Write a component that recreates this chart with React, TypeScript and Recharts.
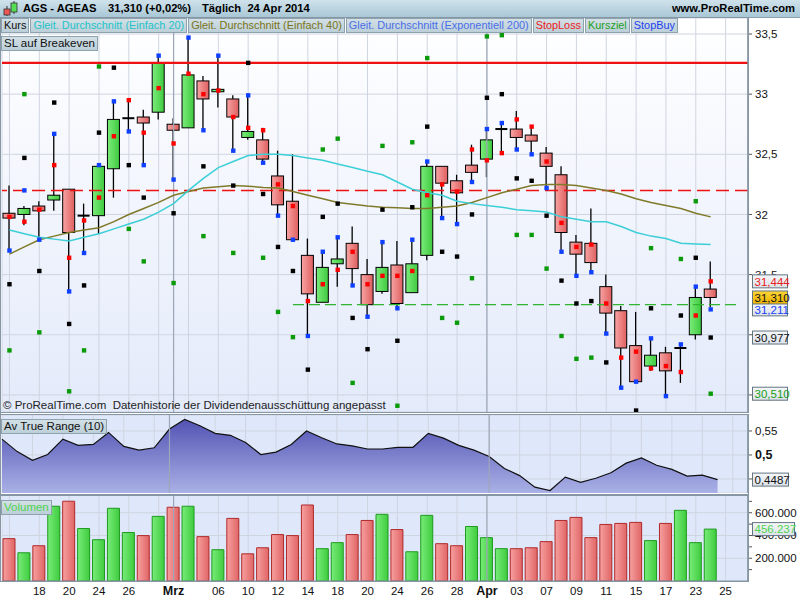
import React from "react";
import {
  ComposedChart, Bar, Line, Area, Scatter, XAxis, YAxis, CartesianGrid, ReferenceLine, Cell,
} from "recharts";

const FONT = '"Liberation Sans", Arial, sans-serif';

// trading days (last two are empty future slots)
const dates = [
  "02-14", "02-17", "02-18", "02-19", "02-20", "02-21", "02-24", "02-25", "02-26", "02-27", "02-28",
  "03-03", "03-04", "03-05", "03-06", "03-07", "03-10", "03-11", "03-12", "03-13", "03-14",
  "03-17", "03-18", "03-19", "03-20", "03-21", "03-24", "03-25", "03-26", "03-27", "03-28", "03-31",
  "04-01", "04-02", "04-03", "04-04", "04-07", "04-08", "04-09", "04-10", "04-11",
  "04-14", "04-15", "04-16", "04-17", "04-22", "04-23", "04-24", "04-25", "04-28",
];

const open = [32.01, 32.0, 32.07, 32.12, 32.21, 31.99, 31.99, 32.38, 32.8, 32.81, 32.85, 32.75, 32.72, 33.11, 33.02, 32.96, 32.64, 32.62, 32.32, 32.11, 31.66, 31.27, 31.59, 31.76, 31.5, 31.36, 31.58, 31.35, 31.66, 32.4, 32.28, 32.41, 32.46, 32.71, 32.71, 32.66, 32.51, 32.33, 31.77, 31.76, 31.4, 31.2, 30.91, 30.74, 30.85, 30.89, 31.0, 31.38];
const high = [32.24, 32.07, 32.11, 32.67, 32.21, 32.09, 32.41, 32.94, 32.95, 32.87, 33.32, 32.8, 33.47, 33.15, 33.32, 32.99, 32.99, 32.72, 32.53, 32.5, 31.8, 31.69, 31.81, 31.9, 31.63, 31.77, 31.78, 31.79, 32.44, 32.4, 32.33, 32.58, 32.71, 32.76, 32.86, 32.73, 32.56, 32.4, 31.83, 32.05, 31.5, 31.24, 31.19, 30.97, 30.9, 30.92, 31.4, 31.61];
const low = [31.7, 31.91, 31.79, 32.03, 31.36, 31.68, 31.84, 32.14, 32.69, 32.41, 32.79, 32.29, 32.72, 32.7, 32.89, 32.53, 32.62, 32.43, 31.99, 31.79, 30.99, 31.27, 31.4, 31.41, 31.15, 31.34, 31.22, 31.35, 31.62, 31.97, 31.92, 32.27, 32.31, 32.51, 32.55, 32.51, 32.22, 31.69, 31.49, 31.52, 31.01, 30.56, 30.61, 30.7, 30.49, 30.6, 30.96, 31.23];
const close = [31.97, 32.05, 32.03, 32.16, 31.85, 31.99, 32.4, 32.79, 32.8, 32.76, 33.26, 32.7, 33.16, 32.96, 33.04, 32.81, 32.69, 32.46, 32.08, 31.79, 31.34, 31.56, 31.63, 31.55, 31.25, 31.56, 31.26, 31.59, 32.4, 32.26, 32.18, 32.35, 32.62, 32.71, 32.64, 32.61, 32.4, 31.85, 31.67, 31.6, 31.18, 30.89, 30.61, 30.83, 30.7, 30.89, 31.31, 31.31];

const sma20 = [31.87, 31.84, 31.81, 31.795, 31.78, 31.81, 31.84, 31.88, 31.92, 31.96, 32.02, 32.09, 32.2, 32.3, 32.39, 32.44, 32.49, 32.5, 32.5, 32.49, 32.47, 32.45, 32.42, 32.39, 32.36, 32.33, 32.27, 32.21, 32.18, 32.16, 32.11, 32.09, 32.075, 32.06, 32.04, 32.03, 32.02, 31.98, 31.96, 31.94, 31.94, 31.9, 31.85, 31.82, 31.8, 31.76, 31.755, 31.75];
const sma40 = [31.67, 31.73, 31.79, 31.82, 31.85, 31.87, 31.89, 31.94, 32.0, 32.05, 32.1, 32.16, 32.19, 32.22, 32.23, 32.24, 32.235, 32.225, 32.22, 32.19, 32.16, 32.13, 32.1, 32.085, 32.07, 32.06, 32.055, 32.05, 32.05, 32.06, 32.07, 32.1, 32.14, 32.18, 32.21, 32.24, 32.25, 32.25, 32.24, 32.22, 32.2, 32.17, 32.13, 32.1, 32.075, 32.05, 32.01, 31.98];

const stopLoss = [31.98, 31.94, 32.04, 32.41, 31.64, 31.95, 32.14, 32.65, 32.95, 32.68, 33.05, 32.59, 33.17, 33.0, 33.03, 32.81, 32.72, 32.7, 32.25, 32.07, 31.28, 31.42, 31.54, 31.69, 31.42, 31.49, 31.49, 31.53, 32.16, 32.25, 32.19, 32.54, 32.45, 32.51, 32.79, 32.73, 32.44, 31.93, 31.73, 31.75, 31.26, 30.81, 30.86, 30.72, 30.74, 30.69, 31.16, 31.444];
const stopBuy = [31.7, 32.2, 31.79, 32.67, 31.36, 31.68, 32.41, 32.94, 32.69, 32.41, 33.32, 32.29, 33.47, 32.7, 33.32, 32.53, 32.99, 32.43, 31.99, 31.79, 30.99, 31.69, 31.81, 31.41, 31.15, 31.77, 31.22, 31.79, 32.44, 31.97, 31.92, 32.27, 32.71, 32.76, 32.54, 32.5, 32.22, 31.69, 31.49, 31.52, 31.01, 30.56, 30.61, 30.97, 30.49, 30.92, 31.4, 31.211];
const breakeven = [31.42, 32.47, 31.53, 32.93, 31.09, 31.41, 32.68, 33.22, 32.41, 32.14, null, 32.01, null, 32.4, null, 32.24, 33.26, 32.17, 31.73, 31.53, 30.71, 31.98, 32.09, 31.14, 30.88, 32.04, 30.95, 32.06, 32.73, 31.69, 31.65, 32.0, 32.97, 33.0, 32.3, 32.28, 31.99, 31.45, 31.26, 31.28, 30.77, null, 30.37, 31.22, null, 31.16, 31.64, 30.977];
const target = [30.87, 33.0, 31.02, null, 30.53, 30.87, 33.23, null, 31.88, 31.61, null, 31.43, null, 31.82, null, 31.68, null, 31.64, 31.19, 30.98, null, 32.54, 32.63, 30.6, null, 32.57, 30.41, 32.6, 33.3, 31.14, 31.1, 31.47, 33.48, 33.49, 31.83, 31.83, 31.55, 30.99, 30.8, 30.81, null, null, null, 31.72, null, 31.63, 32.11, 30.51];

const atr = [0.533, 0.507, 0.489, 0.501, 0.533, 0.52, 0.522, 0.547, 0.518, 0.51, 0.515, 0.554, 0.574, 0.561, 0.545, 0.541, 0.526, 0.501, 0.506, 0.522, 0.55, 0.536, 0.523, 0.519, 0.5125, 0.5125, 0.516, 0.516, 0.545, 0.535, 0.52, 0.51, 0.497, 0.472, 0.457, 0.433, 0.426, 0.454, 0.443, 0.4515, 0.463, 0.483, 0.494, 0.4785, 0.47, 0.456, 0.458, 0.4487];

const volume = [372000, 248000, 310000, 657000, 701000, 461000, 363000, 639000, 426000, 399000, 568000, 648000, 657000, 390000, 275000, 550000, 239000, 292000, 408000, 399000, 668000, 284000, 337000, 408000, 532000, 586000, 452000, 257000, 577000, 328000, 310000, 479000, 381000, 284000, 284000, 292000, 346000, 532000, 559000, 381000, 497000, 506000, 515000, 355000, 506000, 621000, 337000, 456237];
// 1 = close above previous close
const volUp = [0, 1, 0, 1, 0, 1, 1, 1, 1, 0, 1, 0, 1, 0, 1, 0, 0, 0, 0, 0, 0, 1, 1, 0, 0, 1, 0, 1, 1, 0, 0, 1, 1, 1, 0, 0, 0, 0, 0, 0, 0, 0, 0, 1, 0, 1, 1, 1];

const priceTicks = [30.5, 31, 31.5, 32, 32.5, 33, 33.5];
const atrTicks = [0.45, 0.5, 0.55];
const volTicks = [100000, 200000, 300000, 400000, 500000, 600000, 700000];
const volLabelled = [200000, 400000, 600000];
const gridKeys = dates.filter((_, i) => i % 2 === 0 || i === 11);
const xLabels: Record<string, string> = {
  "02-18": "18", "02-20": "20", "02-24": "24", "02-26": "26", "03-03": "Mrz", "03-06": "06",
  "03-10": "10", "03-12": "12", "03-14": "14", "03-18": "18", "03-20": "20", "03-24": "24",
  "03-26": "26", "03-28": "28", "04-01": "Apr", "04-03": "03", "04-07": "07", "04-09": "09",
  "04-11": "11", "04-15": "15", "04-17": "17", "04-23": "23", "04-25": "25",
};
const monthStarts = ["03-03", "04-01"];

// last values shown in boxes on the right
const priceBoxes = [
  { v: 31.444, text: "31,444", color: "#e82020" },
  { v: 30.977, text: "30,977", color: "#111" },
  { v: 30.51, text: "30,510", color: "#17a017" },
  { v: 31.211, text: "31,211", color: "#1840ff" },
  { v: 31.31, text: "31,310", color: "#111", bg: "url(#boxYellow)" },
];
const atrBoxes = [{ v: 0.4487, text: "0,4487", color: "#111", w: 36 }];
const volBoxes = [{ v: 456237, text: "456.237", color: "#4fd44f", w: 42 }];

const rows = dates.map((d, i) => {
  const has = i < open.length;
  return {
    d,
    o: has ? open[i] : null,
    h: has ? high[i] : null,
    l: has ? low[i] : null,
    c: has ? close[i] : null,
    range: has ? [low[i], high[i]] : null,
    sma20: has ? sma20[i] : null,
    sma40: has ? sma40[i] : null,
    sl: has ? stopLoss[i] : null,
    sb: has ? stopBuy[i] : null,
    be: has ? breakeven[i] : null,
    tg: has ? target[i] : null,
    atr: has ? atr[i] : null,
    vol: has ? volume[i] : null,
    up: has ? volUp[i] : 0,
  };
});

const fmtComma = (v: number) => String(v).replace(".", ",");

function Candle(props: any) {
  const { x, y, width, height, payload } = props;
  if (!payload || payload.o == null) return null;
  const top = Math.min(y, y + height);
  const hpx = Math.abs(height);
  const { o, h, l, c } = payload;
  const px = (v: number) => top + ((h - v) / (h - l)) * hpx;
  const cx = x + width / 2;
  const yo = px(o);
  const yc = px(c);
  if (o === c) {
    return (
      <g>
        <line x1={cx} x2={cx} y1={top} y2={top + hpx} stroke="#000" strokeWidth={1.3} />
        <line x1={x} x2={x + width} y1={yo} y2={yo} stroke="#000" strokeWidth={2} />
      </g>
    );
  }
  const bTop = Math.min(yo, yc);
  const bH = Math.max(Math.abs(yo - yc), 1);
  return (
    <g>
      <line x1={cx} x2={cx} y1={top} y2={top + hpx} stroke="#000" strokeWidth={1.3} />
      <rect x={x} y={bTop} width={width} height={bH} fill={c > o ? "url(#candleUp)" : "url(#candleDown)"} stroke="#000" strokeWidth={1} />
    </g>
  );
}

const square = (key: string, color: string) => (p: any) => {
  if (!p || !p.payload || p.payload[key] == null || p.cy == null || isNaN(p.cy)) return <g />;
  return <rect x={p.cx - 2.2} y={p.cy - 2.2} width={4.4} height={4.4} fill={color} />;
};

function ValueBox(props: any) {
  const { viewBox, text, color, bg, w } = props;
  if (!viewBox) return null;
  const x0 = viewBox.x + viewBox.width + 4.5;
  const y0 = viewBox.y;
  return (
    <g>
      <rect x={x0} y={y0 - 6.5} width={w || 35} height={13} fill={bg || "url(#boxBg)"} stroke="#647582" strokeWidth={1} />
      <text x={x0 + 2} y={y0 + 4.3} fill={color} fontSize={11.5} fontFamily={FONT}>{text}</text>
    </g>
  );
}

// separate transparent layer so that the boxes sit above the axis tick labels
function BoxLayer({ height, domain, bottom, boxes }: { height: number; domain: number[]; bottom: number; boxes: any[] }) {
  return (
    <div style={{ position: "absolute", left: 0, top: 0 }}>
      <ComposedChart width={800} height={height} data={rows} margin={{ top: 0, right: 52, bottom, left: 2 }}>
        <defs>
          <linearGradient id={"boxBg"} x1="0" y1="0" x2="0" y2="1">
            <stop offset="0" stopColor="#f5f7f9" />
            <stop offset="1" stopColor="#dce2e9" />
          </linearGradient>
          <linearGradient id="boxYellow" x1="0" y1="0" x2="0" y2="1">
            <stop offset="0" stopColor="#fbd43a" />
            <stop offset="1" stopColor="#f0b400" />
          </linearGradient>
        </defs>
        <XAxis dataKey="d" hide />
        <YAxis hide domain={domain} allowDataOverflow />
        {boxes.map((b) => (
          <ReferenceLine key={b.text} y={b.v} stroke="none" label={<ValueBox text={b.text} color={b.color} bg={b.bg} w={b.w} />} />
        ))}
      </ComposedChart>
    </div>
  );
}

function AtrTick(props: any) {
  const { x, y, payload } = props;
  const bold = payload.value === 0.5;
  return (
    <text x={x} y={y + 4} fontSize={bold ? 12.5 : 11.5} fontWeight={bold ? 700 : 400} fill="#111" fontFamily={FONT}>
      {fmtComma(payload.value)}
    </text>
  );
}

function VolTick(props: any) {
  const { x, y, payload } = props;
  if (!volLabelled.includes(payload.value)) return <g />;
  return (
    <text x={x} y={y + 4} fontSize={11.5} fill="#111" fontFamily={FONT}>
      {payload.value.toLocaleString("de-DE")}
    </text>
  );
}

function DateTick(props: any) {
  const { x, y, payload } = props;
  const label = xLabels[payload.value];
  if (!label) return <g />;
  const bold = label === "Mrz" || label === "Apr";
  return (
    <text x={x} y={y + 6} textAnchor="middle" fontSize={bold ? 12.5 : 11.5} fontWeight={bold ? 700 : 400} fill="#111" fontFamily={FONT}>
      {label}
    </text>
  );
}

const gridStroke = "#cfd5e0";
const monthStroke = "#9ea7b8";
const axisTick = { fontSize: 11.5, fill: "#111", fontFamily: FONT };

const legendBox: React.CSSProperties = {
  display: "inline-block",
  background: "linear-gradient(#d3e0e6, #bccfd8)",
  border: "1px solid #8ea3ae",
  padding: "0 2px",
  height: 13,
  lineHeight: "13px",
  fontSize: 10.9,
  marginRight: 1,
  whiteSpace: "nowrap",
};

const headText: React.CSSProperties = { position: "absolute", top: 2, fontSize: 11.2, fontWeight: 700, whiteSpace: "nowrap" };

function PanelFrame({ top, height }: { top: number; height: number }) {
  return (
    <div style={{ position: "absolute", left: 0, top, width: 749, height, border: "1px solid #8796a4", boxSizing: "border-box", pointerEvents: "none" }} />
  );
}

export default function App() {
  return (
    <div style={{ position: "absolute", left: 0, top: 0, width: 800, height: 600, background: "#fff", overflow: "hidden", fontFamily: FONT }}>
      {/* header */}
      <div style={{ position: "absolute", left: 0, top: 0, width: 800, height: 17, background: "linear-gradient(#cfe2eb, #a9c7d6)", borderBottom: "1px solid #8aa2b0" }}>
        <svg width={18} height={17} style={{ position: "absolute", left: 2, top: 0 }}>
          <line x1={5} x2={5} y1={6} y2={16} stroke="#333" />
          <rect x={2} y={9} width={6} height={6} fill="#ee5555" stroke="#333" strokeWidth={0.8} />
          <line x1={12} x2={12} y1={1} y2={14} stroke="#333" />
          <rect x={9} y={3} width={6} height={9} fill="#55dd55" stroke="#333" strokeWidth={0.8} />
        </svg>
        <span style={{ ...headText, left: 23 }}>AGS - AGEAS</span>
        <span style={{ ...headText, left: 108 }}>31,310 (+0,02%)</span>
        <span style={{ ...headText, left: 202 }}>Täglich&nbsp;&nbsp;24 Apr 2014</span>
        <span style={{ ...headText, right: 5 }}>www.ProRealTime.com</span>
      </div>

      {/* price panel */}
      <div style={{ position: "absolute", left: 0, top: 18 }}>
        <ComposedChart width={800} height={394} data={rows} margin={{ top: 0, right: 0, bottom: 0, left: 2 }}>
          <defs>
            <linearGradient id="mainBg" x1="0" y1="0" x2="0" y2="1">
              <stop offset="0" stopColor="#ffffff" />
              <stop offset="1" stopColor="#e3eafa" />
            </linearGradient>
            <linearGradient id="candleDown" x1="0" y1="0" x2="1" y2="0">
              <stop offset="0" stopColor="#f8a4a4" />
              <stop offset="1" stopColor="#df5f5f" />
            </linearGradient>
            <linearGradient id="candleUp" x1="0" y1="0" x2="1" y2="0">
              <stop offset="0" stopColor="#7bec7b" />
              <stop offset="1" stopColor="#3fca3f" />
            </linearGradient>
          </defs>
          <CartesianGrid stroke={gridStroke} fill="url(#mainBg)" />
          <XAxis dataKey="d" hide ticks={gridKeys} interval={0} />
          <YAxis orientation="right" width={52} domain={[30.358, 33.633]} ticks={priceTicks} interval={0}
            tickFormatter={fmtComma} tick={axisTick} tickSize={4} tickMargin={3}
            axisLine={{ stroke: "#7d8c99", strokeWidth: 1.5 }} tickLine={{ stroke: "#555" }} allowDataOverflow />
          {monthStarts.map((m) => <ReferenceLine key={m} x={m} stroke={monthStroke} strokeWidth={1.2} />)}
          <ReferenceLine y={33.26} stroke="#ee1111" strokeWidth={2.2} />
          <ReferenceLine y={32.2} stroke="#ee1111" strokeWidth={1.5} strokeDasharray="13 6" />
          <ReferenceLine segment={[{ x: dates[19], y: 31.25 }, { x: dates[49], y: 31.25 }]} stroke="#2fb52f" strokeWidth={1.3} strokeDasharray="11 5" />
          <Line dataKey="sma40" type="linear" stroke="#7f7a2a" strokeWidth={1.5} dot={false} isAnimationActive={false} />
          <Line dataKey="sma20" type="linear" stroke="#3ccfd8" strokeWidth={1.5} dot={false} isAnimationActive={false} />
          <Bar dataKey="range" barSize={12} shape={<Candle />} isAnimationActive={false} />
          <Scatter dataKey="be" shape={square("be", "#000")} isAnimationActive={false} />
          <Scatter dataKey="tg" shape={square("tg", "#0a9a0a")} isAnimationActive={false} />
          <Scatter dataKey="sb" shape={square("sb", "#1040ff")} isAnimationActive={false} />
          <Scatter dataKey="sl" shape={square("sl", "#ff0000")} isAnimationActive={false} />
        </ComposedChart>
        <BoxLayer height={394} domain={[30.358, 33.633]} bottom={0} boxes={priceBoxes} />
      </div>
      <PanelFrame top={17} height={396} />
      <div style={{ position: "absolute", left: 3, top: 399, fontSize: 11.5, color: "#222", whiteSpace: "nowrap" }}>
        © ProRealTime.com&nbsp; Datenhistorie der Dividendenausschüttung angepasst
      </div>

      {/* ATR panel */}
      <div style={{ position: "absolute", left: 0, top: 415 }}>
        <ComposedChart width={800} height={78} data={rows} margin={{ top: 0, right: 0, bottom: 0, left: 2 }}>
          <defs>
            <linearGradient id="atrFill" x1="0" y1="0" x2="0" y2="1">
              <stop offset="0" stopColor="#5253b3" />
              <stop offset="1" stopColor="#a9b1e6" />
            </linearGradient>
          </defs>
          <CartesianGrid stroke={gridStroke} fill="#dfe7fb" />
          <XAxis dataKey="d" hide ticks={gridKeys} interval={0} />
          <YAxis orientation="right" width={52} domain={[0.4208, 0.5833]} ticks={atrTicks} interval={0}
            tick={<AtrTick />} tickSize={4} tickMargin={3}
            axisLine={{ stroke: "#7d8c99", strokeWidth: 1.5 }} tickLine={{ stroke: "#555" }} allowDataOverflow />
          {monthStarts.map((m) => <ReferenceLine key={m} x={m} stroke={monthStroke} strokeWidth={1.2} />)}
          <Area dataKey="atr" type="linear" stroke="#111" strokeWidth={1.2} fill="url(#atrFill)" fillOpacity={1} isAnimationActive={false} />
        </ComposedChart>
        <BoxLayer height={78} domain={[0.4208, 0.5833]} bottom={0} boxes={atrBoxes} />
      </div>
      <PanelFrame top={414} height={81} />

      {/* volume panel */}
      <div style={{ position: "absolute", left: 0, top: 496 }}>
        <ComposedChart width={800} height={104} data={rows} margin={{ top: 0, right: 0, bottom: 0, left: 2 }}>
          <defs>
            <linearGradient id="volDown" x1="0" y1="0" x2="1" y2="0">
              <stop offset="0" stopColor="#f7a0a0" />
              <stop offset="1" stopColor="#e06565" />
            </linearGradient>
            <linearGradient id="volUp" x1="0" y1="0" x2="1" y2="0">
              <stop offset="0" stopColor="#78ec78" />
              <stop offset="1" stopColor="#3fcc3f" />
            </linearGradient>
          </defs>
          <CartesianGrid stroke={gridStroke} fill="#dfe7fb" horizontalValues={volLabelled} />
          <XAxis dataKey="d" ticks={gridKeys} interval={0} height={19} tick={<DateTick />} tickLine={false}
            axisLine={{ stroke: "#8796a4", strokeWidth: 1 }} />
          <YAxis orientation="right" width={52} domain={[0, 747000]} ticks={volTicks} interval={0}
            tick={<VolTick />} tickSize={4} tickMargin={3}
            axisLine={{ stroke: "#7d8c99", strokeWidth: 1.5 }} tickLine={{ stroke: "#555" }} allowDataOverflow />
          {monthStarts.map((m) => <ReferenceLine key={m} x={m} stroke={monthStroke} strokeWidth={1.2} />)}
          <Bar dataKey="vol" barSize={12} isAnimationActive={false}>
            {rows.map((r, i) => (
              <Cell key={i} fill={r.up ? "url(#volUp)" : "url(#volDown)"} stroke={r.up ? "#1f9a1f" : "#b02a2a"} strokeWidth={1} />
            ))}
          </Bar>
        </ComposedChart>
        <BoxLayer height={104} domain={[0, 747000]} bottom={19} boxes={volBoxes} />
      </div>
      <PanelFrame top={495} height={87} />
      <div style={{ position: "absolute", left: 0, top: 17, width: 1, height: 565, background: "#8796a4" }} />

      {/* legend boxes */}
      <div style={{ position: "absolute", left: 1, top: 18, display: "flex", color: "#111" }}>
        <span style={legendBox}>Kurs</span>
        <span style={{ ...legendBox, color: "#25c3c9" }}>Gleit. Durchschnitt (Einfach 20)</span>
        <span style={{ ...legendBox, color: "#7a7418" }}>Gleit. Durchschnitt (Einfach 40)</span>
        <span style={{ ...legendBox, color: "#4a6ee8" }}>Gleit. Durchschnitt (Exponentiell 200)</span>
        <span style={{ ...legendBox, color: "#ee2020" }}>StopLoss</span>
        <span style={{ ...legendBox, color: "#1ea01e" }}>Kursziel</span>
        <span style={{ ...legendBox, color: "#1f3ff0" }}>StopBuy</span>
      </div>
      <div style={{ position: "absolute", left: 1, top: 33, color: "#111" }}>
        <span style={{ ...legendBox, fontSize: 11.5 }}>SL auf Breakeven</span>
      </div>
      <div style={{ position: "absolute", left: 1, top: 416, color: "#111" }}>
        <span style={{ ...legendBox, fontSize: 11.5 }}>Av True Range (10)</span>
      </div>
      <div style={{ position: "absolute", left: 1, top: 497, color: "#4fd44f" }}>
        <span style={{ ...legendBox, fontSize: 11.5 }}>Volumen</span>
      </div>
    </div>
  );
}
